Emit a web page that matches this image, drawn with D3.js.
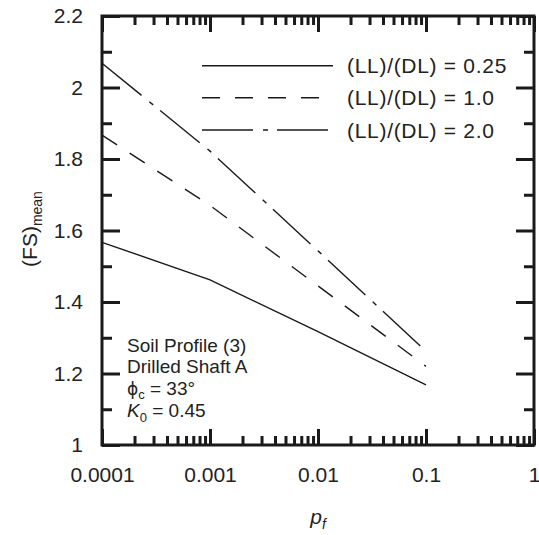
<!DOCTYPE html>
<html>
<head>
<meta charset="utf-8">
<script src="https://cdn.jsdelivr.net/npm/d3@7"></script>
<style>
  body { margin: 0; background: #fff; }
  svg { display: block; font-family: "Liberation Sans", Arial, Helvetica, sans-serif; }
</style>
</head>
<body>
<svg id="chart" width="539" height="535"></svg>
<script>
// ---- data ----
const pf = [0.0001, 0.001, 0.01, 0.1];
const fsLL025 = [1.567, 1.462, 1.317, 1.168];
const fsLL10 = [1.867, 1.670, 1.445, 1.220];
const fsLL20 = [2.068, 1.822, 1.543, 1.262];
const seriesNames = ["(LL)/(DL) = 0.25", "(LL)/(DL) = 1.0", "(LL)/(DL) = 2.0"];
const xMajorTicks = [0.0001, 0.001, 0.01, 0.1, 1];
const xTickLabels = ["0.0001", "0.001", "0.01", "0.1", "1"];
const yMajorTicks = [1, 1.2, 1.4, 1.6, 1.8, 2, 2.2];
const yTickLabels = ["1", "1.2", "1.4", "1.6", "1.8", "2", "2.2"];
const yMinorTicks = [1.1, 1.3, 1.5, 1.7, 1.9, 2.1];
const annotation = ["Soil Profile (3)", "Drilled Shaft A"];

// ---- layout ----
const L = 102, R = 534, T = 16, B = 445;
const svg = d3.select("#chart");
const x = d3.scaleLog().domain([0.0001, 1]).range([L, R]);
const y = d3.scaleLinear().domain([1, 2.2]).range([B, T]);

const xMinorTicks = [];
[0.0001, 0.001, 0.01, 0.1].forEach(d => { for (let k = 2; k <= 9; k++) xMinorTicks.push(d * k); });

function styleAxis(g) {
  g.select(".domain").remove();
  g.selectAll(".tick line").attr("stroke", "#1a1a1a").attr("stroke-width", 3);
  g.selectAll(".tick text").attr("fill", "#222").style("font-size", "21px")
    .style("font-family", '"Liberation Sans", Arial, sans-serif');
}

// bottom axis
svg.append("g").attr("transform", `translate(0,${B})`)
  .call(d3.axisBottom(x).tickValues(xMajorTicks).tickSize(-16).tickPadding(22)
    .tickFormat((d, i) => xTickLabels[i])).call(styleAxis);
svg.append("g").attr("transform", `translate(0,${B})`)
  .call(d3.axisBottom(x).tickValues(xMinorTicks).tickSize(-9).tickFormat("")).call(styleAxis);
// top axis
svg.append("g").attr("transform", `translate(0,${T})`)
  .call(d3.axisTop(x).tickValues(xMajorTicks).tickSize(-16).tickFormat("")).call(styleAxis);
svg.append("g").attr("transform", `translate(0,${T})`)
  .call(d3.axisTop(x).tickValues(xMinorTicks).tickSize(-9).tickFormat("")).call(styleAxis);
// left axis
svg.append("g").attr("transform", `translate(${L},0)`)
  .call(d3.axisLeft(y).tickValues(yMajorTicks).tickSize(-18).tickPadding(19)
    .tickFormat((d, i) => yTickLabels[i])).call(styleAxis);
svg.append("g").attr("transform", `translate(${L},0)`)
  .call(d3.axisLeft(y).tickValues(yMinorTicks).tickSize(-10).tickFormat("")).call(styleAxis);
// right axis
svg.append("g").attr("transform", `translate(${R},0)`)
  .call(d3.axisRight(y).tickValues(yMajorTicks).tickSize(-18).tickFormat("")).call(styleAxis);
svg.append("g").attr("transform", `translate(${R},0)`)
  .call(d3.axisRight(y).tickValues(yMinorTicks).tickSize(-10).tickFormat("")).call(styleAxis);

// frame
svg.append("rect").attr("x", L).attr("y", T).attr("width", R - L).attr("height", B - T)
  .attr("fill", "none").attr("stroke", "#1a1a1a").attr("stroke-width", 3);

// series
const dashes = [null, "18,15", "51,10,5,9"];
const seriesVals = [fsLL025, fsLL10, fsLL20];
const line = d3.line().x(d => x(d[0])).y(d => y(d[1]));
seriesVals.forEach((vals, i) => {
  svg.append("path").datum(pf.map((p, j) => [p, vals[j]]))
    .attr("d", line).attr("fill", "none").attr("stroke", "#1a1a1a")
    .attr("stroke-width", 1.4).attr("stroke-dasharray", dashes[i]);
});

// legend
const legY = [65.7, 97.7, 130];
seriesNames.forEach((name, i) => {
  svg.append("line").attr("x1", 202).attr("x2", 333).attr("y1", legY[i]).attr("y2", legY[i])
    .attr("stroke", "#1a1a1a").attr("stroke-width", 1.4).attr("stroke-dasharray", dashes[i]);
  svg.append("text").attr("x", 347).attr("y", legY[i] + 7.5).attr("fill", "#222")
    .style("font-size", "21px").style("letter-spacing", "0.7px").text(name);
});

// annotation
annotation.forEach((t, i) => {
  svg.append("text").attr("x", 127).attr("y", 352 + i * 20.5).attr("fill", "#222")
    .style("font-size", "19px").text(t);
});
const phi = svg.append("text").attr("x", 127).attr("y", 395).attr("fill", "#222").style("font-size", "19px");
phi.append("tspan").style("font-family", '"DejaVu Sans", sans-serif').style("font-size", "17px").text("\u03D5");
phi.append("tspan").attr("dy", 4).style("font-size", "13px").text("c");
phi.append("tspan").attr("dy", -4).text(" = 33\u00B0");
const k0 = svg.append("text").attr("x", 127).attr("y", 417).attr("fill", "#222").style("font-size", "19px");
k0.append("tspan").style("font-style", "italic").text("K");
k0.append("tspan").attr("dy", 5).style("font-size", "13px").text("0");
k0.append("tspan").attr("dy", -5).text(" = 0.45");

// axis titles
const yl = svg.append("text").attr("transform", "translate(37,229) rotate(-90)")
  .attr("text-anchor", "middle").attr("fill", "#222").style("font-size", "21px");
yl.append("tspan").text("(FS)");
yl.append("tspan").attr("dy", 5).style("font-size", "14px").text("mean");

const xl = svg.append("text").attr("x", 318).attr("y", 524).attr("text-anchor", "middle")
  .attr("fill", "#222").style("font-size", "21px").style("font-style", "italic");
xl.append("tspan").text("p");
xl.append("tspan").attr("dy", 5).style("font-size", "14px").text("f");
</script>
</body>
</html>
